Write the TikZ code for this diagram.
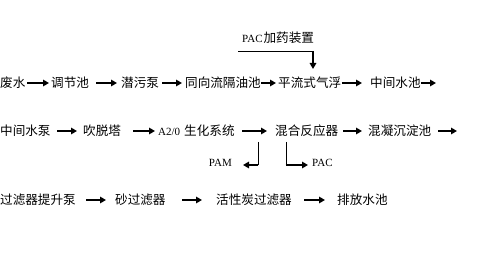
\documentclass[tikz,border=0pt]{standalone}
\usepackage{fontspec}
\newfontfamily\cjk{Noto Sans CJK SC}
\newfontfamily\lat{Liberation Serif}
\usetikzlibrary{arrows.meta}
\newcommand{\ltx}[1]{{\lat\fontsize{11pt}{12pt}\selectfont #1}}
\begin{document}
\begin{tikzpicture}[x=1pt,y=-1pt,
  lbl/.style={anchor=west,inner sep=0pt,font=\cjk\fontsize{12.6pt}{14pt}\selectfont},
  arr/.style={line width=1.6pt,-{Triangle[length=6pt,width=6.5pt]}},
  thin/.style={line width=0.8pt}]
\useasboundingbox[fill=white] (0,0) rectangle (491,272);
% row 1
\node[lbl] (w1) at (0,83) {废水};
\node[lbl] (w2) at (51,83) {调节池};
\node[lbl] (w3) at (121,83) {潜污泵};
\node[lbl] (w4) at (185,83) {同向流隔油池};
\node[lbl] (w5) at (278,83) {平流式气浮};
\node[lbl] (w6) at (370,83) {中间水池};
\coordinate (e1) at (436,83);
\node[lbl] (pac1) at (242,38) {\ltx{PAC}\hspace{1pt}加药装置};
\coordinate (c1) at (238,51);
\coordinate (c2) at (313,51);
\coordinate (t1) at (313,69);
\draw[arr,shorten <=1.8pt,shorten >=2pt] (w1) -- (w2);
\draw[arr,shorten <=7.2pt,shorten >=4pt] (w2) -- (w3);
\draw[arr,shorten <=3.2pt,shorten >=3pt] (w3) -- (w4);
\draw[arr,shorten <=0.4pt,shorten >=2pt] (w4) -- (w5);
\draw[arr,shorten <=0.5pt,shorten >=8pt] (w5) -- (w6);
\draw[arr] (w6) -- (e1);
\draw[thin] (c1) -- (c2);
\draw[arr] (c2) -- (t1);
% row 2
\node[lbl] (m1) at (0,131) {中间水泵};
\node[lbl] (m2) at (83,131) {吹脱塔};
\node[lbl] (m3) at (158,131) {\ltx{A2/0}\hspace{4pt}生化系统};
\node[lbl] (m4) at (275,131) {混合反应器};
\node[lbl] (m5) at (368,131) {混凝沉淀池};
\coordinate (e2) at (457,131);
\draw[arr,shorten <=6.6pt,shorten >=6pt] (m1) -- (m2);
\draw[arr,shorten <=12pt,shorten >=3pt] (m2) -- (m3);
\draw[arr,shorten <=7.6pt,shorten >=8pt] (m3) -- (m4);
\draw[arr,shorten <=5pt,shorten >=6pt] (m4) -- (m5);
\draw[arr,shorten <=7pt] (m5) -- (e2);
% branches
\node[lbl,anchor=east] (pam) at (232,163) {\ltx{PAM}};
\node[lbl] (pac2) at (312,163) {\ltx{PAC}};
\coordinate (b1) at (258,142);
\coordinate (b1d) at (258,165);
\coordinate (b2) at (286,142);
\coordinate (b2d) at (286,165);
\draw[thin] (b1) -- (b1d);
\draw[arr,shorten >=11pt] ([xshift=0.4pt]b1d) -- (b1d -| pam.east);
\draw[thin] (b2) -- (b2d);
\draw[arr,shorten >=4pt] ([xshift=-0.4pt]b2d) -- (b2d -| pac2.west);
% row 3
\node[lbl] (r1) at (0,200) {过滤器提升泵};
\node[lbl] (r2) at (115,200) {砂过滤器};
\node[lbl] (r3) at (216,200) {活性炭过滤器};
\node[lbl] (r4) at (337,200) {排放水池};
\draw[arr,shorten <=10.4pt,shorten >=9pt] (r1) -- (r2);
\draw[arr,shorten <=16.6pt,shorten >=14pt] (r2) -- (r3);
\draw[arr,shorten <=12.4pt,shorten >=12pt] (r3) -- (r4);
\end{tikzpicture}
\end{document}
